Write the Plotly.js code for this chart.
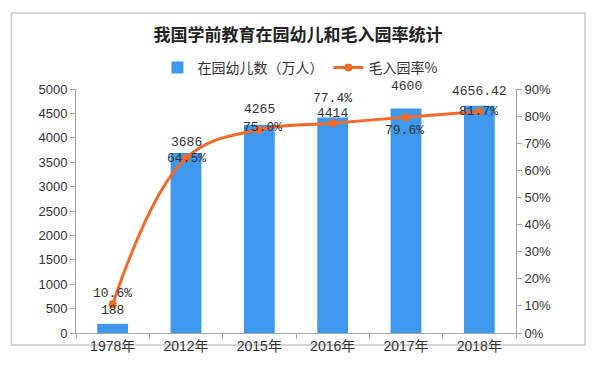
<!DOCTYPE html>
<html>
<head>
<meta charset="utf-8">
<script src="https://cdn.plot.ly/plotly-3.0.1.min.js"></script>
<style>html,body{margin:0;padding:0;background:#fff;}#chart{width:600px;height:375px;}</style>
</head>
<body>
<div id="chart"></div>
<script>
const years = ['1978年', '2012年', '2015年', '2016年', '2017年', '2018年'];
const children = [188, 3686, 4265, 4414, 4600, 4656.42];
const childrenLabels = ['188', '3686', '4265', '4414', '4600', '4656.42'];
const rate = [10.6, 64.5, 75.0, 77.4, 79.6, 81.7];
const rateLabels = ['10.6%', '64.5%', '75.0%', '77.4%', '79.6%', '81.7%'];

// label offsets in pixels (style only)
const barLabelShiftY = [13, 11, 15, 4, 22, 14];
const rateLabelShiftY = [11, 0, 2, 25, -13, 0];
const rateLabelShiftX = [0, 0, 3, 0, -2, -1];

const numFont = 'Liberation Mono, DejaVu Sans Mono, monospace';
const cjk = 'Liberation Sans, "Noto Sans CJK SC", sans-serif';

const barTrace = {
  type: 'bar',
  name: '在园幼儿数（万人）',
  x: years,
  y: children,
  marker: {color: '#3d98ee'},
  hoverinfo: 'x+y'
};
const lineTrace = {
  type: 'scatter',
  mode: 'lines+markers',
  name: '毛入园率%',
  x: years,
  y: rate,
  yaxis: 'y2',
  line: {color: '#f26a2a', width: 3, shape: 'spline', smoothing: 1.1},
  marker: {color: '#f26a2a', size: 8},
  cliponaxis: false
};

const annotations = [];
years.forEach((yr, i) => {
  annotations.push({
    xref: 'x', yref: 'y', x: yr, y: children[i],
    text: childrenLabels[i], showarrow: false,
    xanchor: 'center', yanchor: 'middle', yshift: barLabelShiftY[i],
    font: {family: numFont, size: 13, color: '#333'}
  });
  annotations.push({
    xref: 'x', yref: 'y2', x: yr, y: rate[i],
    text: rateLabels[i], showarrow: false,
    xanchor: 'center', yanchor: 'middle',
    yshift: rateLabelShiftY[i], xshift: rateLabelShiftX[i],
    font: {family: numFont, size: 13, color: '#333'}
  });
});

const layout = {
  width: 600, height: 375,
  margin: {l: 76, r: 84, t: 89, b: 42},
  paper_bgcolor: '#ffffff',
  plot_bgcolor: '#ffffff',
  bargap: 0.58,
  showlegend: true,
  title: {
    text: '<b>我国学前教育在园幼儿和毛入园率统计</b>',
    font: {family: '"Noto Sans CJK SC", sans-serif', size: 17, color: '#222'},
    x: 298/600, xanchor: 'center', xref: 'container',
    y: 1 - 35/375, yanchor: 'middle', yref: 'container'
  },
  legend: {
    orientation: 'h',
    x: 0.509, xanchor: 'center',
    y: 1.086, yanchor: 'middle',
    font: {family: '"Noto Sans CJK SC", sans-serif', size: 14, color: '#333'},
    itemwidth: 30,
    bgcolor: 'rgba(0,0,0,0)'
  },
  xaxis: {
    type: 'category',
    showline: true, linecolor: '#a6a6a6', linewidth: 1,
    ticks: 'outside', tickson: 'boundaries', ticklen: 5, tickcolor: '#a6a6a6',
    showgrid: false,
    tickfont: {family: cjk, size: 14, color: '#333'}
  },
  yaxis: {
    range: [0, 5000], dtick: 500,
    showline: true, linecolor: '#a6a6a6', linewidth: 1,
    ticks: 'outside', ticklen: 5, tickcolor: '#a6a6a6',
    showgrid: false, zeroline: false,
    tickfont: {family: cjk, size: 13, color: '#333'}
  },
  yaxis2: {
    overlaying: 'y', side: 'right',
    range: [0, 90], dtick: 10, ticksuffix: '%',
    showline: true, linecolor: '#a6a6a6', linewidth: 1,
    ticks: 'outside', ticklen: 5, tickcolor: '#a6a6a6',
    showgrid: false, zeroline: false,
    tickfont: {family: cjk, size: 13, color: '#333'}
  },
  annotations: annotations,
  shapes: [{
    type: 'rect', xref: 'paper', yref: 'paper',
    x0: (11.5 - 76) / 440, x1: (585 - 76) / 440,
    y0: (333 - 345) / 244, y1: (333 - 13) / 244,
    line: {color: '#c8c8c8', width: 1.5},
    fillcolor: 'rgba(0,0,0,0)',
    layer: 'below'
  }]
};

Plotly.newPlot('chart', [barTrace, lineTrace], layout, {displayModeBar: false, staticPlot: true});
</script>
</body>
</html>
